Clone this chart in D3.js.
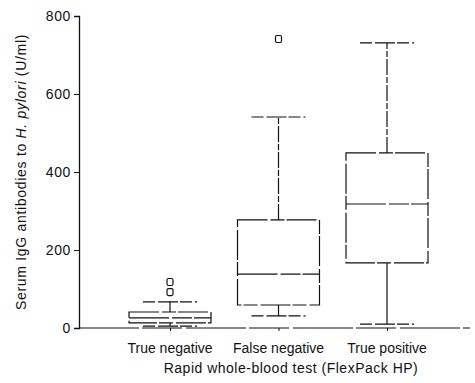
<!DOCTYPE html>
<html><head><meta charset="utf-8">
<script src="https://cdn.jsdelivr.net/npm/d3@7"></script>
<style>body{margin:0;background:#fff}svg{display:block}text{font-family:"Liberation Sans",Arial,sans-serif;fill:#111}</style>
</head><body>
<svg id="c" width="475" height="383"></svg>
<script>
const categories = ["True negative", "False negative", "True positive"];
const whiskerLow = [5, 31, 10];
const q1 = [13, 59, 167];
const median = [26, 138, 318];
const q3 = [41, 277, 449];
const whiskerHigh = [67, 541, 731];
const outliers = [[92, 118], [741], []];
const yTicks = [0, 200, 400, 600, 800];

const svg = d3.select("#c");
const y = d3.scaleLinear().domain([0, 800]).range([328, 16]);
const x = d3.scalePoint().domain(categories).range([170, 387]);
const boxW = 82, capW = 54;
const dash = "16,2,6,2";

const g = svg.append("g").attr("stroke", "#111").attr("fill", "none").attr("stroke-width", 1.2);

// axes
const yAxis = svg.append("g").attr("transform", "translate(79,0)")
  .call(d3.axisLeft(y).tickValues(yTicks).tickSize(5).tickPadding(3).tickFormat(d3.format("d")));
yAxis.select(".domain").attr("stroke", "#111").attr("stroke-width", 1.3);
yAxis.selectAll(".tick line").attr("stroke", "#111");
yAxis.selectAll(".tick text").attr("font-size", 14).attr("letter-spacing", 0.6).attr("fill", "#111");

const xAxis = svg.append("g").attr("transform", "translate(0,328)")
  .call(d3.axisBottom(x).tickSize(3).tickFormat(""));
xAxis.select(".domain").remove();
xAxis.selectAll(".tick line").attr("stroke", "#111");
svg.append("line").attr("x1", 79).attr("x2", 470).attr("y1", 328).attr("y2", 328)
  .attr("stroke", "#111").attr("stroke-width", 1.2).attr("stroke-dasharray", "60,3,40,4");

categories.forEach((c, i) => {
  const cx = x(c);
  g.append("line").attr("x1", cx).attr("x2", cx).attr("y1", y(q3[i])).attr("y2", y(whiskerHigh[i])).attr("stroke-dasharray", dash);
  g.append("line").attr("x1", cx).attr("x2", cx).attr("y1", y(q1[i])).attr("y2", y(whiskerLow[i]));
  g.append("line").attr("x1", cx - capW/2).attr("x2", cx + capW/2).attr("y1", y(whiskerHigh[i])).attr("y2", y(whiskerHigh[i])).attr("stroke-dasharray", "12,3,20,2");
  g.append("line").attr("x1", cx - capW/2).attr("x2", cx + capW/2).attr("y1", y(whiskerLow[i])).attr("y2", y(whiskerLow[i])).attr("stroke-dasharray", "12,3,20,2");
  g.append("rect").attr("x", cx - boxW/2).attr("width", boxW).attr("y", y(q3[i])).attr("height", y(q1[i]) - y(q3[i]))
    .attr("stroke-dasharray", "30,3,14,2");
  g.append("line").attr("x1", cx - boxW/2).attr("x2", cx + boxW/2).attr("y1", y(median[i])).attr("y2", y(median[i])).attr("stroke-dasharray", "40,3,20,2");
  outliers[i].forEach(v => {
    g.append("rect").attr("x", cx - 3).attr("y", y(v) - 3.5).attr("width", 6).attr("height", 7).attr("rx", 1.5);
  });
});

categories.forEach(c => {
  svg.append("text").attr("x", x(c)).attr("y", 353).attr("text-anchor", "middle").attr("font-size", 14).text(c);
});
svg.append("text").attr("x", 291).attr("y", 373).attr("text-anchor", "middle").attr("font-size", 14).attr("letter-spacing", 0.5).text("Rapid whole-blood test (FlexPack HP)");

const yt = svg.append("text").attr("transform", "translate(26,172) rotate(-90)").attr("text-anchor", "middle").attr("font-size", 14).attr("letter-spacing", 0.7);
yt.append("tspan").text("Serum IgG antibodies to ");
yt.append("tspan").attr("font-style", "italic").text("H. pylori");
yt.append("tspan").text(" (U/ml)");
</script>
</body></html>
